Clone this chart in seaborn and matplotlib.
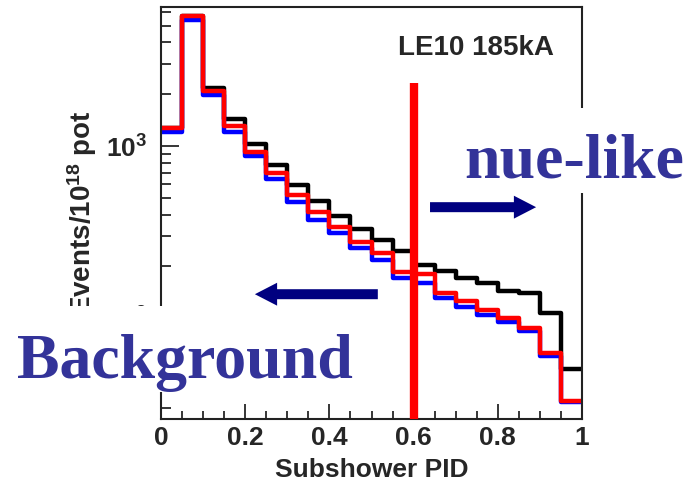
import numpy as np
import pandas as pd
import matplotlib
matplotlib.use("Agg")
import matplotlib.pyplot as plt
from matplotlib.patches import Rectangle
from matplotlib.ticker import MultipleLocator, LogLocator, FuncFormatter, NullFormatter
import seaborn as sns

# Subshower PID histogram, 20 bins of width 0.05 (events per 1e18 POT)
bin_edges = [round(0.05 * i, 2) for i in range(21)]
counts_black = [1273, 5700, 2174, 1436, 1027, 775, 593, 481, 393, 328,
                284, 245, 205, 188, 172, 161, 144, 140, 108, 51]
counts_blue = [1206, 5400, 1980, 1206, 875, 643, 474, 371, 311, 255,
               217, 172, 161, 131, 117, 104, 95, 84, 60, 32.5]
counts_red = [1273, 5700, 2089, 1307, 923, 697, 519, 413, 337, 278,
              238, 186, 180, 140, 126, 111, 100, 87.5, 63, 33]
series_colors = {"black": "#000000", "blue": "#0000ff", "red": "#ff0000"}

pid_cut = 0.6
cut_top = 2323

sns.set_style("ticks")
plt.rcParams.update({
    "font.family": ["Liberation Sans", "DejaVu Sans"],
    "font.weight": "bold",
    "mathtext.fontset": "custom",
    "mathtext.rm": "Liberation Sans:bold",
    "mathtext.bf": "Liberation Sans:bold",
    "mathtext.it": "Liberation Sans:bold",
    "mathtext.default": "bf",
})

centers = [(a + b) / 2 for a, b in zip(bin_edges[:-1], bin_edges[1:])]
df = pd.DataFrame({
    "pid": centers * 3,
    "events": counts_black + counts_blue + counts_red,
    "sample": ["black"] * 20 + ["blue"] * 20 + ["red"] * 20,
})

W, H = 686, 483
fig = plt.figure(figsize=(W / 100, H / 100), dpi=100)
ax = fig.add_axes([161 / W, 1 - 419 / H, 421 / W, 412 / H])

for name in ["black", "blue", "red"]:
    sub = df[df["sample"] == name]
    sns.histplot(data=sub, x="pid", weights="events", bins=bin_edges,
                 element="step", fill=False, color=series_colors[name],
                 linewidth=3.2, ax=ax)

ax.set_yscale("log")
ax.set_xlim(0, 1)
ax.set_ylim(26, 6430)

# PID cut line
ax.vlines(pid_cut, 26, cut_top, colors="#ff0000", linewidth=6, zorder=5)

# Direction arrows
arrow_kw = dict(arrowstyle="simple,head_length=16,head_width=16.5,tail_width=7.2",
                color="#000080", mutation_scale=1, shrinkA=0, shrinkB=0, lw=0)
ax.annotate("", xy=(0.891, 442), xytext=(0.639, 442), arrowprops=arrow_kw)
ax.annotate("", xy=(0.223, 138), xytext=(0.515, 138), arrowprops=arrow_kw)

# Axes styling
ax.xaxis.set_major_locator(MultipleLocator(0.2))
ax.xaxis.set_minor_locator(MultipleLocator(0.05))
ax.xaxis.set_major_formatter(FuncFormatter(lambda v, p: f"{v:g}"))
ax.yaxis.set_major_locator(LogLocator(base=10))
ax.yaxis.set_minor_locator(LogLocator(base=10, subs=np.arange(2, 10)))
ax.yaxis.set_major_formatter(
    FuncFormatter(lambda v, p: f"$10^{{{int(round(np.log10(v)))}}}$"))
ax.yaxis.set_minor_formatter(NullFormatter())

ax.tick_params(which="both", direction="in", top=False, right=False,
               width=1.3, labelsize=19)
ax.tick_params(axis="x", which="major", length=11, pad=5)
ax.tick_params(axis="x", which="minor", length=6)
ax.tick_params(axis="y", which="major", length=13, pad=10)
ax.tick_params(axis="y", which="minor", length=7)
for lab in ax.get_xticklabels() + ax.get_yticklabels():
    lab.set_fontweight("bold")
for sp in ax.spines.values():
    sp.set_linewidth(1.5)
    sp.set_color("#222222")

ax.set_xlabel("Subshower PID", fontsize=19, fontweight="bold", labelpad=6)
ax.set_ylabel("Events/10$^{18}$ pot", fontsize=20, fontweight="bold")
ax.yaxis.set_label_coords(-0.148, 0.5)

fig.text(398 / W, 1 - 55 / H, "LE10 185kA", fontsize=20, fontweight="bold",
         ha="left", va="baseline")

# White panels behind the big labels
fig.add_artist(Rectangle((0, 1 - 392 / H), 360 / W, 86 / H,
                         transform=fig.transFigure, facecolor="white",
                         edgecolor="none", zorder=5))
fig.add_artist(Rectangle((455 / W, 1 - 193 / H), 231 / W, 85 / H,
                         transform=fig.transFigure, facecolor="white",
                         edgecolor="none", zorder=5))

serif = ["Liberation Serif", "DejaVu Serif"]
fig.text(17 / W, 1 - 378 / H, "Background", fontsize=46, fontweight="bold",
         family=serif, color="#333399", ha="left", va="baseline", zorder=6)
fig.text(464 / W, 1 - 177 / H, "nue-like", fontsize=46, fontweight="bold",
         family=serif, color="#333399", ha="left", va="baseline", zorder=6)

fig.savefig("out.png", dpi=100)
